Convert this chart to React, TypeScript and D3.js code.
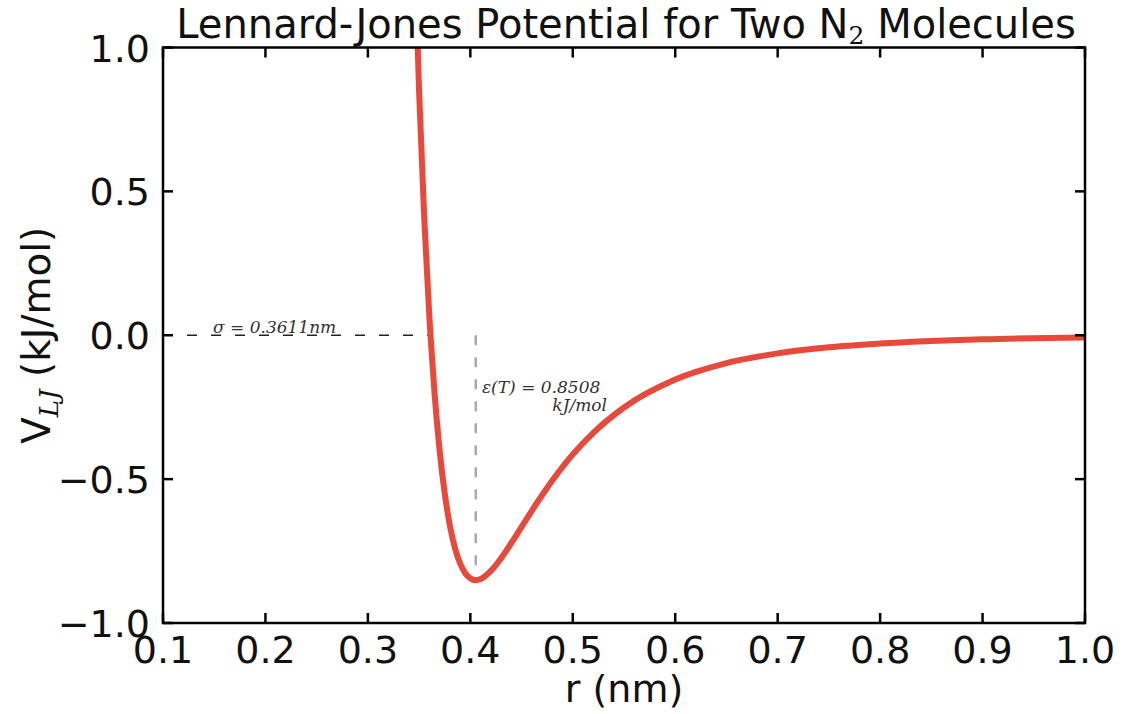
import React from "react";
import * as d3 from "d3";

// values (r in nm, V in kJ/mol)
const rValues = [
  0.34, 0.345, 0.35, 0.355, 0.36, 0.3611, 0.365, 0.37, 0.375, 0.38, 0.385, 0.39,
  0.395, 0.4, 0.4053, 0.41, 0.42, 0.43, 0.44, 0.45, 0.46, 0.47, 0.48, 0.5, 0.52,
  0.55, 0.6, 0.65, 0.7, 0.75, 0.8, 0.9, 1.0,
];
const vValues = [
  2.13, 1.41, 0.846, 0.406, 0.064, 0.0, -0.199, -0.4, -0.55, -0.661, -0.74, -0.793,
  -0.827, -0.845, -0.851, -0.847, -0.819, -0.775, -0.722, -0.666, -0.61, -0.556,
  -0.505, -0.414, -0.339, -0.251, -0.154, -0.097, -0.063, -0.042, -0.029, -0.014,
  -0.0075,
];

const xTicks = [0.1, 0.2, 0.3, 0.4, 0.5, 0.6, 0.7, 0.8, 0.9, 1.0];
const yTicks = [1.0, 0.5, 0.0, -0.5, -1.0];

const sigma = 0.3611;
const epsilon = 0.8508;
const rMin = 0.4053;

const W = 1129;
const H = 714;
const margin = { top: 47.5, right: 44, bottom: 91, left: 163 };

export default function App() {
  const x = d3.scaleLinear().domain([0.1, 1.0]).range([margin.left, W - margin.right]);
  const y = d3.scaleLinear().domain([-1, 1]).range([H - margin.bottom, margin.top]);

  const pts = rValues.map((r, i) => [r, vValues[i]] as [number, number]);
  const line = d3
    .line<[number, number]>()
    .x((d) => x(d[0]))
    .y((d) => y(d[1]))
    .curve(d3.curveMonotoneX);

  const fmt = (v: number) => d3.format(".1f")(v).replace("-", "\u2212");
  const tickLen = 10;
  const font = "'DejaVu Sans', sans-serif";
  const serif = "'DejaVu Serif', serif";

  const x0 = x(0.1), x1 = x(1.0), y0 = y(-1), y1 = y(1);

  return (
    <svg
      width={W}
      height={H}
      style={{ position: "absolute", left: 0, top: 0, background: "#fff" }}
    >
      <defs>
        <clipPath id="plot">
          <rect x={x0} y={y1} width={x1 - x0} height={y0 - y1} />
        </clipPath>
      </defs>

      {/* sigma marker */}
      <line
        x1={x(0.1)}
        x2={x(sigma)}
        y1={y(0)}
        y2={y(0)}
        stroke="#222"
        strokeWidth={1.3}
        strokeDasharray="10,14"
      />
      <text x={213} y={333} fontFamily={serif} fontStyle="italic" fontSize={17} fill="#333">
        σ = 0.3611nm
      </text>

      {/* epsilon marker */}
      <line
        x1={x(rMin)}
        x2={x(rMin)}
        y1={y(0)}
        y2={y(-epsilon)}
        stroke="#aaa"
        strokeWidth={2.5}
        strokeDasharray="10,12"
      />
      <text x={482} y={393} fontFamily={serif} fontStyle="italic" fontSize={17} fill="#333">
        ε(T) = 0.8508
      </text>
      <text x={607} y={411} textAnchor="end" fontFamily={serif} fontStyle="italic" fontSize={17} fill="#333">
        kJ/mol
      </text>

      <path
        d={line(pts) ?? ""}
        fill="none"
        stroke="#e8493a"
        strokeWidth={6}
        strokeLinejoin="round"
        clipPath="url(#plot)"
      />

      {/* frame */}
      <rect x={x0} y={y1} width={x1 - x0} height={y0 - y1} fill="none" stroke="#000" strokeWidth={2.5} />

      {xTicks.map((t) => (
        <g key={"x" + t}>
          <line x1={x(t)} x2={x(t)} y1={y0} y2={y0 - tickLen} stroke="#000" strokeWidth={2.5} />
          <line x1={x(t)} x2={x(t)} y1={y1} y2={y1 + tickLen} stroke="#000" strokeWidth={2.5} />
          <text x={x(t)} y={663} textAnchor="middle" fontFamily={font} fontSize={38} fill="#111">
            {fmt(t)}
          </text>
        </g>
      ))}
      {yTicks.map((t) => (
        <g key={"y" + t}>
          <line x1={x0} x2={x0 + tickLen} y1={y(t)} y2={y(t)} stroke="#000" strokeWidth={2.5} />
          <line x1={x1} x2={x1 - tickLen} y1={y(t)} y2={y(t)} stroke="#000" strokeWidth={2.5} />
          <text x={150} y={y(t) + 14} textAnchor="end" fontFamily={font} fontSize={38} fill="#111">
            {fmt(t)}
          </text>
        </g>
      ))}

      <text x={(x0 + x1) / 2 + 2} y={38} textAnchor="middle" fontFamily={font} fontSize={40} fill="#111">
        Lennard-Jones Potential for Two N
        <tspan fontFamily={serif} fontSize={25} dy={6}>2</tspan>
        <tspan dy={-6}> Molecules</tspan>
      </text>

      <text x={(x0 + x1) / 2} y={702} textAnchor="middle" fontFamily={font} fontSize={38} fill="#111">
        r (nm)
      </text>

      <text
        transform={`translate(50, ${(y0 + y1) / 2}) rotate(-90)`}
        textAnchor="middle"
        fontFamily={font}
        fontSize={39}
        fill="#111"
      >
        V
        <tspan fontFamily={serif} fontStyle="italic" fontSize={26} dy={8}>LJ</tspan>
        <tspan dy={-8}> (kJ/mol)</tspan>
      </text>
    </svg>
  );
}
